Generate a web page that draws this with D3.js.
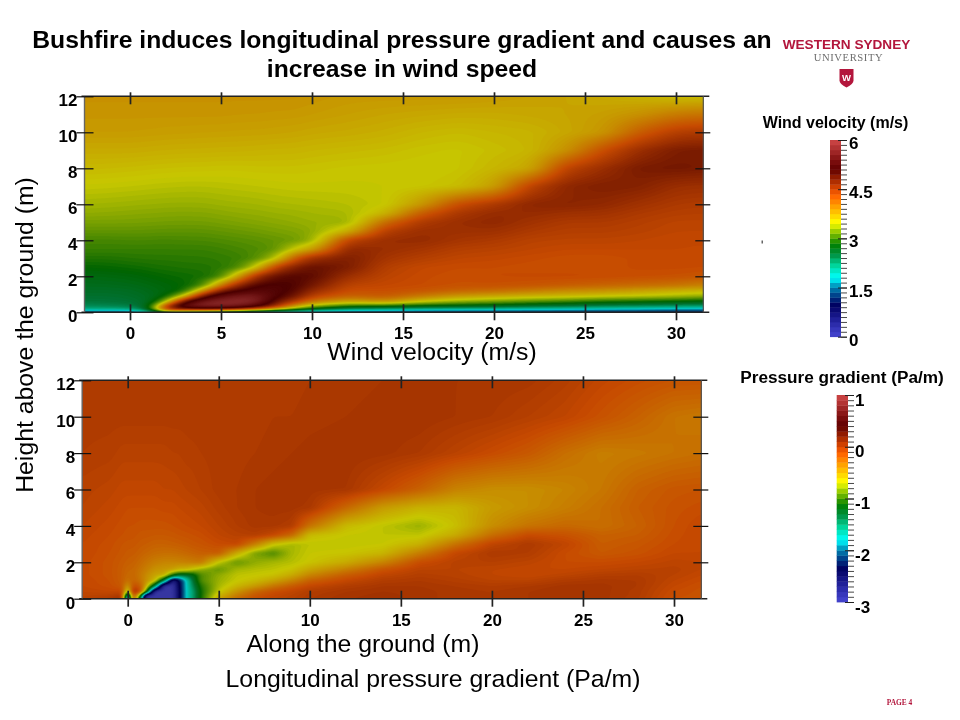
<!DOCTYPE html>
<html><head><meta charset="utf-8">
<script src="https://cdn.jsdelivr.net/npm/d3@7/dist/d3.min.js"></script>
<style>
html,body{margin:0;padding:0;background:#fff}
svg{display:block;font-family:"Liberation Sans",Arial,sans-serif;filter:blur(0.35px)}
</style></head><body>
<svg id="c" width="960" height="720" viewBox="0 0 960 720"></svg>
<script>
// ---------- axis ticks ----------
const xTicks=[0,5,10,15,20,25,30];
const yTicks=[0,2,4,6,8,10,12];
const windBarLabels=[0,1.5,3,4.5,6];
const pressBarLabels=[-3,-2,-1,0,1];
// ---------- colour map ----------
const cmapStops=[0,.05,.1,.16,.2,.25,.3,.36,.42,.47,.58,.65,.72,.76,.85,.9,1];
const cmapColors=["#4646d0","#3232b4","#1a1a90","#000060","#003080","#0080b0","#00ffff","#00d8a0","#009040","#008000","#ffff00","#ffb000","#ff6000","#d24200","#600000","#801010","#d04848"];
const plotDim=0.78;
// ---------- wind field: one profile per x, heights run top to bottom ----------
const windHeights=[12,11,10,9,8,7,6,5.5,5,4.5,4,3.5,3,2.5,2,1.5,1.2,.9,.6,.35,.15,0];
const windX=[-2.5,-1,0,1,1.5,2,3,4,5,6,7,8,9,10,12,14,16,18,20,22,24,26,28,30,31.5];
const windProfiles=[
[3.85,3.82,3.78,3.68,3.58,3.47,3.36,3.3,3.22,3.14,3.05,3.0,2.92,2.82,2.72,2.65,2.6,2.55,2.48,2.35,2.1,1.0],
[3.85,3.82,3.78,3.68,3.57,3.46,3.35,3.29,3.22,3.14,3.05,3.0,2.92,2.84,2.74,2.66,2.6,2.55,2.5,2.4,2.1,1.0],
[3.85,3.82,3.78,3.68,3.56,3.45,3.34,3.28,3.22,3.14,3.06,3.0,2.94,2.86,2.76,2.68,2.62,2.58,2.52,2.42,2.15,1.0],
[3.85,3.82,3.77,3.67,3.55,3.44,3.33,3.27,3.21,3.14,3.06,3.0,2.95,2.88,2.8,2.72,2.68,2.64,2.6,2.6,2.5,1.6],
[3.85,3.82,3.77,3.66,3.54,3.43,3.33,3.27,3.21,3.13,3.05,3.0,2.95,2.9,2.82,2.75,2.72,2.7,2.85,3.3,3.6,1.8],
[3.85,3.82,3.76,3.66,3.54,3.43,3.32,3.26,3.2,3.13,3.05,3.0,2.95,2.9,2.84,2.78,2.75,2.8,3.3,4.6,4.8,2.2],
[3.85,3.82,3.76,3.65,3.53,3.42,3.32,3.26,3.2,3.13,3.06,3.0,2.96,2.92,2.86,2.82,2.84,3.5,5.0,5.5,4.6,2.0],
[3.85,3.82,3.75,3.65,3.53,3.42,3.32,3.26,3.2,3.13,3.06,3.0,2.96,2.92,2.88,3.0,3.8,4.9,5.6,5.7,4.7,1.8],
[3.85,3.82,3.75,3.64,3.52,3.43,3.34,3.28,3.22,3.15,3.08,3.02,2.98,2.95,3.0,4.0,4.8,5.4,5.75,5.7,4.6,1.6],
[3.85,3.81,3.74,3.64,3.52,3.44,3.35,3.3,3.24,3.17,3.1,3.05,3.0,3.05,3.8,4.7,5.1,5.6,5.8,5.6,4.3,1.4],
[3.85,3.81,3.74,3.63,3.53,3.45,3.36,3.31,3.26,3.19,3.12,3.08,3.1,3.55,4.6,5.1,5.3,5.6,5.7,5.2,3.9,1.3],
[3.85,3.8,3.73,3.62,3.53,3.46,3.38,3.33,3.28,3.22,3.15,3.12,3.4,4.4,4.95,5.15,5.2,5.15,4.9,4.6,3.4,1.2],
[3.85,3.8,3.72,3.62,3.53,3.47,3.39,3.34,3.3,3.24,3.18,3.5,4.2,4.75,5.05,5.1,5.05,4.9,4.5,3.8,3.0,1.1],
[3.83,3.78,3.7,3.6,3.52,3.47,3.4,3.36,3.33,3.28,3.3,3.75,4.6,4.95,5.0,4.85,4.65,4.4,4.0,3.3,2.6,1.0],
[3.8,3.75,3.68,3.58,3.5,3.47,3.42,3.38,3.33,3.65,4.4,4.7,4.8,4.8,4.6,4.4,4.3,4.15,3.7,2.9,2.2,.95],
[3.8,3.72,3.65,3.56,3.49,3.48,3.47,3.6,4.1,4.45,4.62,4.62,4.55,4.45,4.4,4.35,4.3,4.22,3.85,2.85,2.1,.95],
[3.8,3.7,3.6,3.52,3.48,3.5,3.8,4.2,4.5,4.62,4.65,4.55,4.45,4.35,4.33,4.32,4.25,4.0,3.5,2.75,2.0,.9],
[3.8,3.68,3.57,3.5,3.5,3.55,4.3,4.52,4.62,4.6,4.55,4.45,4.38,4.32,4.3,4.28,4.15,3.8,3.3,2.7,1.95,.9],
[3.78,3.68,3.6,3.55,3.6,3.75,4.5,4.65,4.68,4.6,4.5,4.42,4.36,4.32,4.32,4.28,4.1,3.7,3.2,2.65,1.9,.9],
[3.75,3.7,3.62,3.6,3.7,4.4,4.7,4.65,4.58,4.5,4.42,4.38,4.33,4.3,4.33,4.25,4.0,3.62,3.1,2.55,1.85,.9],
[3.72,3.72,3.7,3.85,4.4,4.7,4.72,4.6,4.5,4.45,4.4,4.35,4.3,4.3,4.33,4.2,3.9,3.58,3.0,2.5,1.8,.9],
[3.68,3.76,3.82,4.3,4.62,4.78,4.68,4.58,4.5,4.45,4.4,4.35,4.3,4.3,4.32,4.15,3.85,3.5,2.9,2.4,1.75,.9],
[3.62,3.85,4.2,4.62,4.82,4.75,4.58,4.5,4.45,4.42,4.38,4.35,4.33,4.33,4.3,4.1,3.75,3.45,2.85,2.35,1.7,.9],
[3.55,4.0,4.45,4.8,4.85,4.62,4.5,4.45,4.4,4.38,4.35,4.35,4.35,4.33,4.28,4.05,3.65,3.38,2.8,2.3,1.6,.9],
[3.55,4.05,4.5,4.82,4.82,4.6,4.48,4.44,4.4,4.38,4.35,4.35,4.33,4.32,4.25,3.95,3.6,3.3,2.75,2.25,1.6,.9]
];
// ---------- pressure field: one profile per x, heights run top to bottom ----------
const pressHeights=[12,10,8,6,5,4,3.5,3,2.5,2,1.6,1.3,1,.7,.4,.2,0];
const pressX=[-2.5,-1,-.3,0,.3,.7,1,1.5,2,2.5,2.8,3.2,3.6,4,5,6,7,8,9,10,12,14,16,18,20,22,24,26,28,30,31.5];
const pressProfiles=[
[0,-.01,-.02,-.05,-.06,-.08,-.09,-.1,-.1,-.11,-.11,-.11,-.1,-.1,-.08,-.07,-.05],
[0,-.01,-.03,-.07,-.09,-.11,-.12,-.13,-.14,-.15,-.15,-.15,-.14,-.13,-.1,-.05,0],
[0,-.01,-.05,-.09,-.11,-.13,-.14,-.16,-.17,-.19,-.2,-.2,-.2,-.18,-.1,0,.08],
[0,-.01,-.05,-.09,-.12,-.14,-.15,-.17,-.19,-.21,-.24,-.26,-.3,-.5,-.9,-2,-2.7],
[0,-.01,-.05,-.09,-.12,-.14,-.15,-.17,-.19,-.22,-.24,-.24,-.22,-.12,.08,.08,.15],
[0,-.01,-.05,-.09,-.12,-.15,-.17,-.19,-.22,-.26,-.3,-.32,-.3,-.2,-.1,-.9,-1.6],
[0,-.01,-.05,-.09,-.12,-.15,-.17,-.2,-.24,-.3,-.35,-.4,-.42,-.5,-.9,-2.8,-3],
[0,-.01,-.05,-.09,-.12,-.15,-.18,-.22,-.27,-.35,-.44,-.52,-.6,-1.4,-3,-3,-3],
[0,-.01,-.05,-.08,-.11,-.15,-.18,-.22,-.28,-.38,-.46,-.55,-1.4,-3,-3,-3,-3],
[0,-.01,-.04,-.08,-.11,-.14,-.17,-.21,-.28,-.38,-.5,-1.1,-2.8,-3,-3,-3,-3],
[0,-.01,-.04,-.07,-.1,-.13,-.16,-.2,-.27,-.37,-.58,-1.3,-2.4,-2.45,-2.5,-2.5,-2.5],
[0,-.01,-.03,-.06,-.09,-.12,-.15,-.19,-.25,-.36,-.6,-1.3,-1.8,-1.8,-1.8,-1.8,-1.8],
[0,0,-.03,-.05,-.08,-.11,-.14,-.17,-.23,-.34,-.7,-1.2,-1.3,-1.4,-1.5,-1.5,-1.5],
[0,0,-.02,-.04,-.07,-.1,-.13,-.16,-.21,-.32,-.8,-.95,-.95,-1.05,-1.1,-1.1,-1.1],
[-.01,-.01,-.01,-.01,-.03,-.06,-.08,-.12,-.2,-.7,-.9,-.8,-.78,-.75,-.7,-.6,-.5],
[-.01,-.01,-.01,0,0,-.02,-.05,-.1,-.55,-.9,-.75,-.7,-.68,-.6,-.45,-.35,-.25],
[-.01,-.01,0,.02,.02,.01,-.03,-.35,-.85,-.8,-.72,-.68,-.62,-.48,-.25,-.18,-.12],
[-.01,0,.01,.03,.03,.01,-.1,-.65,-.95,-.75,-.7,-.65,-.52,-.32,-.14,-.1,-.08],
[-.01,0,.02,.04,.03,-.02,-.25,-.75,-.75,-.72,-.65,-.55,-.38,-.2,-.08,-.06,-.04],
[0,.01,.03,.03,.01,-.3,-.62,-.7,-.68,-.66,-.52,-.38,-.22,-.1,-.02,-.01,0],
[0,.02,.04,.02,-.25,-.62,-.68,-.7,-.66,-.55,-.35,-.2,-.1,-.02,.02,.03,.04],
[.02,.04,.03,-.1,-.48,-.7,-.7,-.68,-.6,-.38,-.16,-.08,-.02,.02,.04,.05,.05],
[.03,.04,0,-.22,-.58,-.78,-.7,-.58,-.35,-.13,-.06,-.03,0,.02,.03,.03,.03],
[.02,.02,-.06,-.37,-.6,-.64,-.55,-.3,-.1,-.05,-.06,-.05,-.03,0,.01,.01,.01],
[.02,0,-.12,-.42,-.48,-.42,-.28,-.08,0,-.04,-.08,-.08,-.06,-.02,0,0,0],
[.01,-.04,-.18,-.42,-.42,-.3,-.12,0,-.02,-.07,-.1,-.1,-.06,0,.02,.02,.02],
[-.03,-.08,-.28,-.38,-.35,-.25,-.15,-.08,-.12,-.12,-.1,-.07,-.01,.03,.04,.04,.04],
[-.09,-.15,-.35,-.32,-.28,-.28,-.22,-.2,-.18,-.12,-.08,-.03,.01,.03,.03,.03,.03],
[-.13,-.22,-.33,-.22,-.2,-.22,-.2,-.17,-.15,-.1,-.06,-.02,0,0,-.01,-.01,-.02],
[-.16,-.3,-.3,-.17,-.15,-.14,-.13,-.12,-.1,-.07,-.05,-.06,-.08,-.1,-.12,-.13,-.14],
[-.16,-.32,-.28,-.16,-.13,-.1,-.1,-.1,-.1,-.08,-.08,-.1,-.12,-.14,-.15,-.15,-.16]
];

const svg=d3.select("#c");
const cmap=d3.scaleLinear().domain(cmapStops).range(cmapColors).interpolate(d3.interpolateRgb).clamp(true);
function dimmed(t){const c=d3.rgb(cmap(t));return d3.rgb(c.r*plotDim,c.g*plotDim,c.b*plotDim).formatHex();}

function panel(o){
  const x=d3.scaleLinear().domain([0,30]).range([o.x0,o.x30]);
  const y=d3.scaleLinear().domain([0,12]).range([o.yBottom,o.yTop]);
  const n=o.xs.length,m=o.ys.length;
  const left=x(o.xs[0]),right=x(o.xs[n-1]),top=y(12),bot=y(0);
  // shade the field on a fine drawing lattice so the picture is as smooth as the reference
  const W=Math.round((right-left)/1.5),H=Math.round(bot-top);
  const ix=d3.scaleLinear().domain(o.xs.map(v=>x(v))).range(d3.range(n)).clamp(true);
  const iy=d3.scaleLinear().domain(o.ys.map(v=>y(v))).range(d3.range(m)).clamp(true);
  const cx=d3.scaleLinear().domain([0,W]).range([left,right]);
  const cy=d3.scaleLinear().domain([0,H]).range([top,bot]);
  const vals=new Float64Array(W*H);
  for(let j=0;j<H;j++){
    const fy=iy(cy(j+.5)),j0=Math.min(Math.floor(fy),m-2),ty=fy-j0;
    for(let i=0;i<W;i++){
      const fx=ix(cx(i+.5)),i0=Math.min(Math.floor(fx),n-2),tx=fx-i0;
      const p=o.profiles;
      vals[j*W+i]=(p[i0][j0]*(1-tx)+p[i0+1][j0]*tx)*(1-ty)+(p[i0][j0+1]*(1-tx)+p[i0+1][j0+1]*tx)*ty;
    }
  }
  d3.blur2({data:vals,width:W,height:H},o.rx,o.ry);
  const t=d3.scaleLinear().domain(o.domain).range([0,1]);
  const N=200,span=o.domain[1]-o.domain[0];
  const thresholds=d3.range(0,N+1).map(k=>o.domain[0]+span*k/N);
  const path=d3.geoPath(d3.geoTransform({point(a,b){this.stream.point(cx(a),cy(b));}}));
  const conts=d3.contours().size([W,H]).smooth(true).thresholds(thresholds)(vals);
  svg.append("rect").attr("x",left).attr("y",top).attr("width",right-left).attr("height",bot-top).attr("fill",dimmed(0));
  svg.append("g").selectAll("path").data(conts).join("path")
    .attr("d",path).attr("fill",d=>dimmed(t(d.value+span/(2*N))));
  // frame
  const frame=svg.append("g").attr("fill","none");
  frame.append("line").attr("x1",left-3).attr("x2",right+6).attr("y1",y(12)).attr("y2",y(12)).attr("stroke","#222").attr("stroke-width",1.4);
  frame.append("line").attr("x1",left-3).attr("x2",right+6).attr("y1",y(0)).attr("y2",y(0)).attr("stroke","#222").attr("stroke-width",1.4);
  frame.append("line").attr("x1",left).attr("x2",left).attr("y1",y(12)).attr("y2",y(0)).attr("stroke","#666").attr("stroke-width",1.4);
  frame.append("line").attr("x1",right).attr("x2",right).attr("y1",y(12)).attr("y2",y(0)).attr("stroke","#555").attr("stroke-width",1.2);
  // axes
  const txt=s=>s.call(a=>a.select(".domain").remove())
    .call(a=>a.selectAll("text").attr("fill","#000").style("font-size","17px").style("font-weight","bold"));
  const bottom=svg.append("g").attr("transform",`translate(0,${y(0)})`)
    .call(d3.axisBottom(x).tickValues(xTicks).tickFormat(d3.format("d")).tickSizeInner(8).tickPadding(7)).call(txt);
  bottom.selectAll("line").attr("y1",-8).attr("y2",8).attr("stroke","#222").attr("stroke-width",1.7);
  svg.append("g").attr("transform",`translate(0,${y(12)})`)
    .call(d3.axisTop(x).tickValues(xTicks).tickFormat("").tickSizeInner(5)).call(txt)
    .selectAll("line").attr("y1",-4).attr("y2",8).attr("stroke","#222").attr("stroke-width",1.7);
  const l=svg.append("g").attr("transform",`translate(${left},0)`)
    .call(d3.axisLeft(y).tickValues(yTicks).tickFormat(d3.format("d")).tickSizeInner(8).tickPadding(0)).call(txt);
  l.selectAll("line").attr("x1",-8).attr("x2",9).attr("stroke","#111").attr("stroke-width",1.2);
  l.selectAll("text").attr("x",-7).attr("dy","0.55em");
  const r=svg.append("g").attr("transform",`translate(${right},0)`)
    .call(d3.axisRight(y).tickValues(yTicks.slice(1,6)).tickFormat("").tickSizeInner(7)).call(txt);
  r.selectAll("line").attr("x1",-8).attr("x2",7).attr("stroke","#111").attr("stroke-width",1.2);
}
panel({xs:windX,ys:windHeights,profiles:windProfiles,domain:[0,6],x0:130,x30:676,yBottom:312.3,yTop:96.3,rx:5,ry:1});
panel({xs:pressX,ys:pressHeights,profiles:pressProfiles,domain:[-3,1],x0:127.7,x30:674,yBottom:598.7,yTop:380.3,rx:1,ry:.7});

function colorBar(o){
  const y=d3.scaleLinear().domain(o.domain).range([o.yBottom,o.yTop]);
  const t=d3.scaleLinear().domain(o.domain).range([0,1]);
  const steps=d3.range(0,40).map(k=>o.domain[0]+(o.domain[1]-o.domain[0])*k/40);
  const dv=(o.domain[1]-o.domain[0])/40;
  svg.append("g").selectAll("rect").data(steps).join("rect")
    .attr("x",o.x).attr("width",o.w)
    .attr("y",d=>y(d+dv)).attr("height",d=>y(d)-y(d+dv)+.4)
    .attr("fill",d=>cmap(t(d+dv/2)));
  const ax=svg.append("g").attr("transform",`translate(${o.x+o.w},0)`)
    .call(d3.axisRight(y).tickValues(d3.range(0,41).map(k=>o.domain[0]+dv*k)).tickFormat("").tickSizeInner(6));
  ax.select(".domain").remove();
  ax.selectAll("line").attr("stroke","#333").attr("stroke-width",.9);
  const lab=svg.append("g").attr("transform",`translate(${o.x+o.w},0)`)
    .call(d3.axisRight(y).tickValues(o.labels).tickFormat(d=>d).tickSizeInner(6).tickPadding(o.pad));
  lab.select(".domain").remove();
  lab.selectAll("line").attr("x1",-3).attr("stroke","#222");
  lab.selectAll("text").attr("fill","#000").attr("dy",o.dy).style("font-size","17px").style("font-weight","bold");
  svg.append("text").attr("x",o.tx).attr("y",o.ty).attr("text-anchor","middle").attr("font-weight","bold").attr("font-size",o.tsize).text(o.title);
}
colorBar({domain:[0,6],labels:windBarLabels,x:830,w:11,yBottom:336.7,yTop:140,pad:2,dy:"0.5em",title:"Wind velocity (m/s)",tx:835.5,ty:128,tsize:16});
colorBar({domain:[-3,1],labels:pressBarLabels,x:836.7,w:11.3,yBottom:602,yTop:395,pad:1,dy:"0.6em",title:"Pressure gradient (Pa/m)",tx:842,ty:383,tsize:17.2});

// stray mark of the reference
svg.append("rect").attr("x",761.5).attr("y",240.5).attr("width",1.5).attr("height",3).attr("fill","#666");

// titles
const T=(x,y,s,size,extra)=>{const e=svg.append("text").attr("x",x).attr("y",y).attr("text-anchor","middle").attr("font-size",size).text(s);if(extra)extra(e);return e;};
T(402,48,"Bushfire induces longitudinal pressure gradient and causes an",24.7,e=>e.attr("font-weight","bold"));
T(402,77,"increase in wind speed",24.7,e=>e.attr("font-weight","bold"));
T(432,360,"Wind velocity (m/s)",24.8);
T(363,652,"Along the ground (m)",24.8);
T(433,687,"Longitudinal pressure gradient (Pa/m)",24.8);
svg.append("text").attr("transform","translate(33,335) rotate(-90)").attr("text-anchor","middle").attr("font-size",24.8).text("Height above the ground (m)");

// logo
T(846.5,49,"WESTERN SYDNEY",13.6,e=>e.attr("font-weight","bold").attr("fill","#b3163c"));
T(848.5,61,"UNIVERSITY",10.6,e=>e.attr("fill","#6e6e6e").style("font-family","'Liberation Serif',serif").style("letter-spacing","0.6px"));
svg.append("path").attr("d","M839.5 69H853.5V80.5Q853.5 84 846.5 87.5Q839.5 84 839.5 80.5Z").attr("fill","#b3163c");
T(846.5,80.5,"W",9.5,e=>e.attr("font-weight","bold").attr("fill","#fff"));
T(899.5,705,"PAGE 4",7.4,e=>e.attr("font-weight","bold").attr("fill","#b3163c").style("font-family","'Liberation Serif',serif"));
</script>
</body></html>
